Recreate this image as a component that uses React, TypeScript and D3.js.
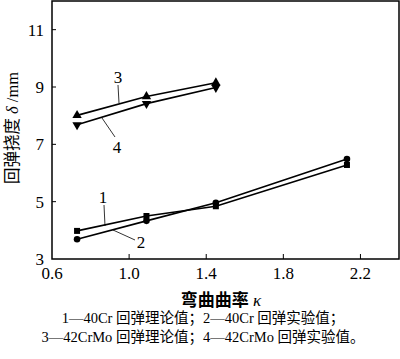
import React from "react";
import * as d3 from "d3";

const curvatureA = [0.73, 1.09, 1.45, 2.13];
const curvatureB = [0.73, 1.09, 1.45];
const series1 = [3.98, 4.5, 4.84, 6.28]; // 40Cr theory (square)
const series2 = [3.69, 4.33, 4.96, 6.49]; // 40Cr experiment (circle)
const series3 = [8.01, 8.67, 9.15]; // 42CrMo theory (triangle up)
const series4 = [7.68, 8.42, 8.98]; // 42CrMo experiment (triangle down)
const xTicks = [0.6, 1.0, 1.4, 1.8, 2.2];
const yTicks = [3, 5, 7, 9, 11];
const captionLines = [
  "1—40Cr 回弹理论值；2—40Cr 回弹实验值；",
  "3—42CrMo 回弹理论值；4—42CrMo 回弹实验值。",
];

const W = 400;
const H = 359;
const left = 52;
const right = 399;
const top = 1;
const bottom = 259;

const serif = "'Liberation Serif', 'Times New Roman', serif";
const cjk = "'Liberation Serif', 'Noto Sans CJK SC', serif";

export default function App() {
  const x = d3.scaleLinear().domain([0.6, 2.4]).range([left, right]);
  const y = d3.scaleLinear().domain([3, 12]).range([bottom, top]);
  const line = d3
    .line<[number, number]>()
    .x((d) => x(d[0]))
    .y((d) => y(d[1]));

  const pts = (xs: number[], ys: number[]) =>
    xs.map((v, i) => [v, ys[i]] as [number, number]);

  const triUp = d3.symbol(d3.symbolTriangle, 38)();
  const sq = 6;

  return (
    <svg
      width={W}
      height={H}
      style={{ position: "absolute", left: 0, top: 0, background: "#fff" }}
    >
      <rect x={0} y={0} width={W} height={H} fill="#fff" />
      <rect
        x={left}
        y={top}
        width={right - left}
        height={bottom - top}
        fill="none"
        stroke="#000"
        strokeWidth={1.5}
      />
      {yTicks.map((t) => (
        <g key={"y" + t}>
          {t !== 3 && (
            <line x1={left} x2={left + 4} y1={y(t)} y2={y(t)} stroke="#000" strokeWidth={1} />
          )}
          <text
            x={left - 8}
            y={y(t) + 6}
            textAnchor="end"
            fontFamily={serif}
            fontSize={17}
          >
            {t}
          </text>
        </g>
      ))}
      {xTicks.map((t) => (
        <g key={"x" + t}>
          {t !== 0.6 && (
            <line x1={x(t)} x2={x(t)} y1={bottom} y2={bottom - 5} stroke="#000" strokeWidth={1} />
          )}
          <text
            x={x(t)}
            y={bottom + 20}
            textAnchor="middle"
            fontFamily={serif}
            fontSize={17}
          >
            {t.toFixed(1)}
          </text>
        </g>
      ))}
      {[
        pts(curvatureA, series1),
        pts(curvatureA, series2),
        pts(curvatureB, series3),
        pts(curvatureB, series4),
      ].map((p, i) => (
        <path key={"l" + i} d={line(p) || ""} fill="none" stroke="#000" strokeWidth={1.6} />
      ))}
      {pts(curvatureA, series1).map((p, i) => (
        <rect
          key={"s" + i}
          x={x(p[0]) - sq / 2}
          y={y(p[1]) - sq / 2}
          width={sq}
          height={sq}
          fill="#000"
        />
      ))}
      {pts(curvatureA, series2).map((p, i) => (
        <circle key={"c" + i} cx={x(p[0])} cy={y(p[1])} r={3.3} fill="#000" />
      ))}
      {pts(curvatureB, series3).map((p, i) => (
        <path
          key={"u" + i}
          d={triUp || ""}
          transform={`translate(${x(p[0])},${y(p[1])})`}
          fill="#000"
        />
      ))}
      {pts(curvatureB, series4).map((p, i) => (
        <path
          key={"d" + i}
          d={triUp || ""}
          transform={`translate(${x(p[0])},${y(p[1])}) rotate(180)`}
          fill="#000"
        />
      ))}
      <line x1={118} y1={85} x2={119} y2={103} stroke="#000" strokeWidth={0.8} />
      <text x={118} y={83} textAnchor="middle" fontFamily={serif} fontSize={17}>3</text>
      <line x1={102} y1={118} x2={115} y2={137} stroke="#000" strokeWidth={0.8} />
      <text x={117} y={153} textAnchor="middle" fontFamily={serif} fontSize={17}>4</text>
      <line x1={104} y1={205} x2={105} y2={226} stroke="#000" strokeWidth={0.8} />
      <text x={103} y={203} textAnchor="middle" fontFamily={serif} fontSize={17}>1</text>
      <line x1={113} y1={230} x2={135} y2={240} stroke="#000" strokeWidth={0.8} />
      <text x={141} y={248} textAnchor="middle" fontFamily={serif} fontSize={17}>2</text>
      <text
        transform={`translate(18,128) rotate(-90)`}
        textAnchor="middle"
        fontFamily={cjk}
        fontSize={16.5}
      >
        回弹挠度 <tspan fontStyle="italic">δ</tspan> /mm
      </text>
      <text
        x={221}
        y={306}
        textAnchor="middle"
        fontFamily={cjk}
        fontSize={17}
        fontWeight="bold"
      >
        弯曲曲率 <tspan fontStyle="italic" fontWeight="normal">κ</tspan>
      </text>
      {captionLines.map((c, i) => (
        <text
          key={"cap" + i}
          x={W / 2 + 3}
          y={323 + i * 19}
          textAnchor="middle"
          fontFamily={cjk}
          fontSize={14.5}
        >
          {c}
        </text>
      ))}
    </svg>
  );
}
